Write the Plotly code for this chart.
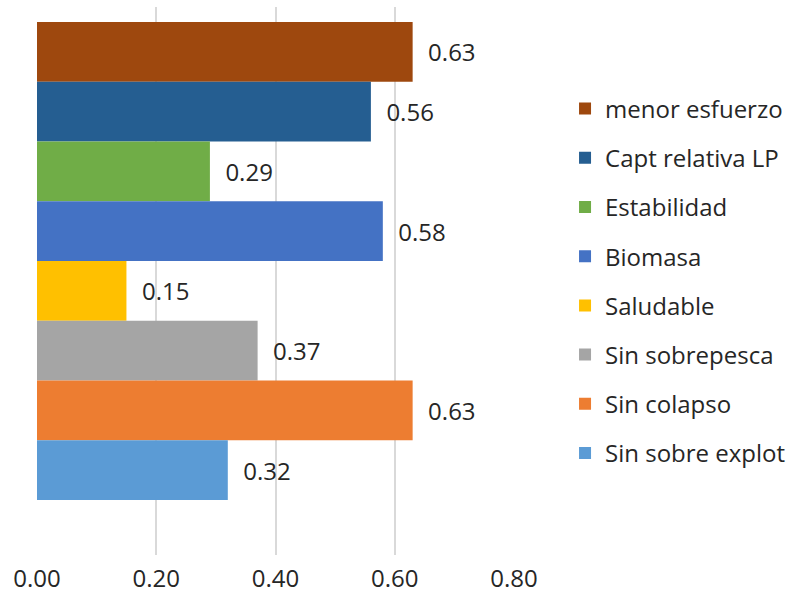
import plotly.graph_objects as go

# Indicator scores per management criterion
series_names = [
    "menor esfuerzo",
    "Capt relativa LP",
    "Estabilidad",
    "Biomasa",
    "Saludable",
    "Sin sobrepesca",
    "Sin colapso",
    "Sin sobre explot",
]
series_values = [0.63, 0.56, 0.29, 0.58, 0.15, 0.37, 0.63, 0.32]
series_colors = [
    "#9E480E", "#255E91", "#70AD47", "#4472C4",
    "#FFC000", "#A5A5A5", "#ED7D31", "#5B9BD5",
]
category = [""]
x_ticks = [0.0, 0.2, 0.4, 0.6, 0.8]

FONT = "Open Sans"
TEXT_COLOR = "#262626"

fig = go.Figure()
for i, (name, val, col) in enumerate(zip(series_names, series_values, series_colors)):
    fig.add_trace(go.Bar(
        y=category,
        x=[val],
        name=name,
        orientation="h",
        marker=dict(color=col, line=dict(width=0)),
        text=[val],
        texttemplate="\u00a0\u00a0%{x:.2f}",
        textposition="outside",
        textfont=dict(family=FONT, size=24, color=TEXT_COLOR),
        cliponaxis=False,
        legendgroup=f"g{i}",
    ))

fig.update_layout(
    width=794,
    height=610,
    margin=dict(l=37, r=280, t=7, b=55, autoexpand=False),
    paper_bgcolor="white",
    plot_bgcolor="white",
    barmode="group",
    bargap=0.2,
    bargroupgap=0,
    font=dict(family=FONT, size=24, color=TEXT_COLOR),
    showlegend=True,
    legend=dict(
        x=1.107,
        xanchor="left",
        y=0.5,
        yanchor="middle",
        font=dict(family=FONT, size=24, color=TEXT_COLOR),
        tracegroupgap=15,
        itemclick=False,
        bgcolor="rgba(0,0,0,0)",
    ),
    xaxis=dict(
        range=[0, 0.8],
        tickvals=x_ticks,
        tickformat=".2f",
        showgrid=True,
        gridcolor="#D9D9D9",
        gridwidth=1.5,
        zeroline=False,
        showline=False,
        ticks="",
        tickfont=dict(family=FONT, size=24, color=TEXT_COLOR),
        ticklabelstandoff=7,
    ),
    yaxis=dict(
        type="category",
        range=[0.4921, -0.4251],
        showticklabels=False,
        showgrid=False,
        zeroline=False,
        showline=False,
        ticks="",
    ),
)

fig.write_html("out.html")
